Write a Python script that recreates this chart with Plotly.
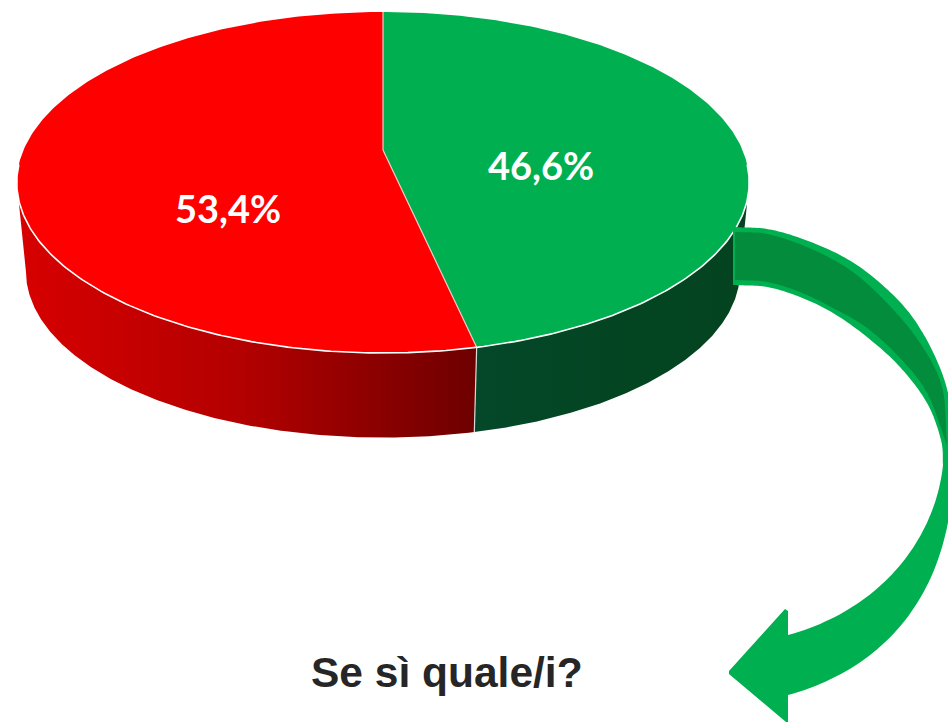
import numpy as np
import plotly.graph_objects as go

# ---- data ----
categories = ["Sì", "No"]
values = [46.6, 53.4]
value_labels = ["46,6%", "53,4%"]
title_text = "Se sì quale/i?"

# ---- styling ----
top_colors = ["#00B050", "#FF0000"]
wall_grad = [
    [[0, "#04482A"], [0.5, "#034522"], [1, "#034320"]],
    [[0, "#D80000"], [0.5, "#B20000"], [1, "#6E0000"]],
]
W, H = 948, 722

# perspective projection of the pie disc onto the page
CX, CY, SX, SY, PERSP = 383.0, 150.0, 359.5, 135.7, -0.1906
WALL_K, WALL_C = 0.975, 93.5


def project(deg, r=1.0):
    a = np.radians(deg)
    X, Y = r * np.sin(a), -r * np.cos(a)
    d = 1 + PERSP * Y
    return CX + SX * X / d, (SY * Y + CY) / d


def lower(x, y):
    return CX + WALL_K * (x - CX), WALL_K * y + WALL_C


def arc(a0, a1, n=240):
    return np.linspace(a0, a1, n)


spans = 360.0 * np.array(values) / sum(values)
edges = np.concatenate([[0.0], np.cumsum(spans)])
tangent = np.degrees(np.arccos(PERSP))
wall_from = tangent
wall_to = 360.0 - tangent

fig = go.Figure()

wall_ranges = [(wall_from, edges[1]), (edges[1], wall_to)]
for (a0, a1), grad, name in zip(wall_ranges, wall_grad, categories):
    tx, ty = project(arc(a0, a1))
    bx, by = lower(tx, ty)
    fig.add_trace(go.Scatter(
        x=np.concatenate([tx, bx[::-1]]), y=np.concatenate([ty, by[::-1]]),
        mode="lines", line=dict(width=0), fill="toself",
        fillgradient=dict(type="horizontal", colorscale=grad),
        hoverinfo="skip", showlegend=False, name=name + " wall"))

sx, sy = project(np.array([edges[1]]))
bx, by = lower(sx, sy)
fig.add_trace(go.Scatter(
    x=[sx[0], bx[0]], y=[sy[0], by[0]], mode="lines",
    line=dict(color="#D9D9D9", width=1.2), hoverinfo="skip", showlegend=False))

for i, name in enumerate(categories):
    tx, ty = project(arc(edges[i], edges[i + 1]))
    fig.add_trace(go.Scatter(
        x=np.concatenate([[CX], tx, [CX]]), y=np.concatenate([[CY], ty, [CY]]),
        mode="lines", line=dict(width=0), fill="toself", fillcolor=top_colors[i],
        name=name, hoverinfo="name", showlegend=False))

for e in edges[:2]:
    tx, ty = project(np.array([e]))
    fig.add_trace(go.Scatter(
        x=[CX, tx[0]], y=[CY, ty[0]], mode="lines",
        line=dict(color="#F3C9C9", width=1.2), hoverinfo="skip", showlegend=False))

tx, ty = project(arc(wall_from - 6, wall_to + 6))
fig.add_trace(go.Scatter(x=tx, y=ty, mode="lines",
                         line=dict(color="#FFFFFF", width=1.6),
                         hoverinfo="skip", showlegend=False))


# ---- curved arrow (annotation graphic, drawn as page shapes) ----
def smooth(points, steps=14):
    p = np.array(points, dtype=float)
    q = np.vstack([2 * p[0] - p[1], p, 2 * p[-1] - p[-2]])
    out = []
    for i in range(1, len(q) - 2):
        for t in np.linspace(0, 1, steps, endpoint=False):
            out.append(0.5 * ((2 * q[i]) + (-q[i - 1] + q[i + 1]) * t
                              + (2 * q[i - 1] - 5 * q[i] + 4 * q[i + 1] - q[i + 2]) * t ** 2
                              + (-q[i - 1] + 3 * q[i] - 3 * q[i + 1] + q[i + 2]) * t ** 3))
    out.append(p[-1])
    return out


def bezier(p0, p1, p2, p3, n=50):
    t = np.linspace(0, 1, n)[:, None]
    p0, p1, p2, p3 = map(np.array, (p0, p1, p2, p3))
    b = (1 - t) ** 3 * p0 + 3 * (1 - t) ** 2 * t * p1 + 3 * (1 - t) * t ** 2 * p2 + t ** 3 * p3
    return [tuple(r) for r in b]


def path(pts):
    return "M " + " L ".join(f"{x:.1f},{y:.1f}" for x, y in pts) + " Z"


outer = (smooth([(733, 227), (767, 229), (800, 238), (840, 255), (873, 277), (907, 310),
                 (932, 350), (948, 393), (953, 440), (953, 480)])
         + bezier((953, 480), (947, 600), (880, 670), (788, 695)))
inner = (smooth([(733, 285), (767, 287), (800, 297), (833, 313), (867, 337), (900, 367),
                 (927, 403), (941, 440), (943, 465)])
         + bezier((943, 465), (935, 540), (880, 610), (788, 635)))
arrow = outer + [(788, 722), (786, 722), (729, 674), (729, 671), (785, 609), (788, 611)] + inner[::-1]

dark_top = smooth([(735, 232), (767, 234), (807, 247), (850, 270), (887, 303), (920, 343),
                   (942, 387), (947, 445)])
dark_bot = smooth([(735, 280), (767, 282), (800, 292), (833, 308), (867, 328), (900, 358),
                   (927, 393), (947, 445)])
dark = dark_top + dark_bot[::-1]

fig.update_layout(
    width=W, height=H, margin=dict(l=0, r=0, t=0, b=0),
    paper_bgcolor="white", plot_bgcolor="white", showlegend=False,
    xaxis=dict(range=[0, W], visible=False, fixedrange=True),
    yaxis=dict(range=[H, 0], visible=False, fixedrange=True),
    shapes=[
        dict(type="path", xref="x", yref="y", path=path(arrow),
             fillcolor="#00B050", line=dict(width=0), layer="above"),
        dict(type="path", xref="x", yref="y", path=path(dark),
             fillcolor="#038C3B", line=dict(width=0), layer="above"),
    ],
    annotations=[
        dict(x=541, y=164.5, xref="x", yref="y", text=f"<b>{value_labels[0]}</b>", showarrow=False,
             font=dict(family="Lato", size=38, color="white")),
        dict(x=228, y=207.5, xref="x", yref="y", text=f"<b>{value_labels[1]}</b>", showarrow=False,
             font=dict(family="Lato", size=38, color="white")),
        dict(x=447, y=672, xref="x", yref="y", text=f"<b>{title_text}</b>", showarrow=False,
             font=dict(family="Liberation Sans", size=42.5, color="#262626")),
    ],
)

fig.write_html("out.html", config=dict(displayModeBar=False),
               post_script="document.body.style.margin='0';document.documentElement.style.overflow='hidden';")
